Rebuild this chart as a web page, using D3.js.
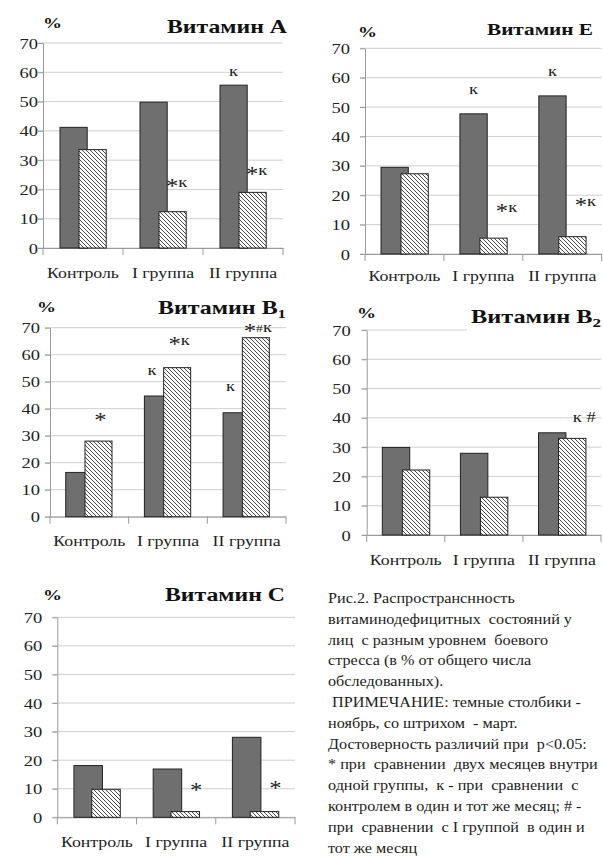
<!DOCTYPE html>
<html>
<head>
<meta charset="utf-8">
<script src="https://cdn.jsdelivr.net/npm/d3@7"></script>
<style>
  body { margin: 0; background: #fff; }
  svg { display: block; }
</style>
</head>
<body>
<script>
// categories and tick values
var categories = ["Контроль", "I группа", "II группа"];
var yTicks = [0, 10, 20, 30, 40, 50, 60, 70];

// dark bars - ноябрь, hatched bars - март (% of examined)
var vitA_nov = [41.2, 49.8, 55.6],  vitA_mar = [33.6, 12.4, 19.0];
var vitE_nov = [29.5, 47.7, 53.8],  vitE_mar = [27.3, 5.4, 5.9];
var vitB1_nov = [16.4, 44.7, 38.5], vitB1_mar = [28.0, 55.2, 66.3];
var vitB2_nov = [29.9, 27.9, 34.9], vitB2_mar = [22.2, 12.9, 33.0];
var vitC_nov = [18.1, 16.9, 28.0],  vitC_mar = [9.8, 2.0, 2.0];

// significance marks: [category index, series (0 nov, 1 mar), level, text]
var vitA_marks = [[2, 0, 60, "к"], [1, 1, 22.2, "*к"], [2, 1, 26.3, "*к"]];
var vitE_marks = [[1, 0, 55.8, "к"], [2, 0, 61.9, "к"], [1, 1, 15.6, "*к"], [2, 1, 17.8, "*к"]];
var vitB1_marks = [[0, 1, 37, "*"], [1, 0, 54, "к"], [1, 1, 65, "*к"], [2, 0, 48, "к"], [2, 1, 70, "*#к"]];
var vitB2_marks = [[2, 1, 39.8, "к #"]];
var vitC_marks = [[1, 1, 10.7, "*"], [2, 1, 11.3, "*"]];

var captionLines = [
  "Рис.2. Распространснность",
  "витаминодефицитных  состояний у",
  "лиц  с разным уровнем  боевого",
  "стресса (в % от общего числа",
  "обследованных).",
  " ПРИМЕЧАНИЕ: темные столбики -",
  "ноябрь, со штрихом  - март.",
  "Достоверность различий при  p<0.05:",
  "* при  сравнении  двух месяцев внутри",
  "одной группы,  к - при  сравнении  с",
  "контролем в один и тот же месяц; # -",
  "при  сравнении  с I группой  в один и",
  "тот же месяц"
];

var W = 603, H = 858;

var svg = d3.select("body").append("svg")
    .attr("width", W)
    .attr("height", H);

svg.append("rect").attr("width", W).attr("height", H).attr("fill", "#fff");

// pick the first serif family that is really installed
function textWidth(str, family, size, weight) {
  var t = svg.append("text").attr("font-size", size).attr("font-weight", weight || "normal")
      .attr("font-family", family).style("white-space", "pre").text(str);
  var w = t.node().getComputedTextLength();
  t.remove();
  return w;
}
var FONT = (function () {
  var probe = "Контроль Wmiil 0123";
  var base = textWidth(probe, "monospace", 20);
  var cands = ["Liberation Serif", "Tinos", "Times New Roman", "Times", "DejaVu Serif",
               "Noto Serif", "FreeSerif", "Nimbus Roman", "Nimbus Roman No9 L", "PT Serif"];
  for (var i = 0; i < cands.length; i++) {
    if (Math.abs(textWidth(probe, "'" + cands[i] + "', monospace", 20) - base) > 0.5) return "'" + cands[i] + "', serif";
  }
  return "serif";
})();
svg.attr("font-family", FONT);

// horizontal stretch so that a sample string gets the width it has in the picture
function stretchFor(str, size, weight, target) {
  var w = textWidth(str, FONT, size, weight);
  return w > 0 ? target / w : 1;
}

var sxTick = stretchFor("70", 15, "normal", 18.5);
var sxCat = stretchFor("Контроль", 15, "normal", 72);
var sxMark = stretchFor("к", 15, "normal", 9);
var sxPct = stretchFor("%", 15, "bold", 19);

// hatch pattern for the March bars
svg.append("defs").append("pattern")
    .attr("id", "hatch")
    .attr("patternUnits", "userSpaceOnUse")
    .attr("width", 4).attr("height", 4)
  .call(function (p) {
    p.append("rect").attr("width", 4).attr("height", 4).attr("fill", "#fff");
    p.append("path")
      .attr("d", "M0,0 L4,4 M-1,3 L1,5 M3,-1 L5,1")
      .attr("stroke", "#333").attr("stroke-width", 0.9);
  });

var panels = [
  {title: "Витамин А", sub: null, nov: vitA_nov, mar: vitA_mar, marks: vitA_marks,
   left: 43, right: 283, top: 43, bottom: 248, tickGap: 5, catDy: 30,
   titleX: 287, titleY: 33, titleW: 120, titleSize: 19, pctX: 43, pctY: 28,
   dark: 0.2125, hatch: 0.45, barW: 0.34, darkDx: 0, hatchDx: 4},
  {title: "Витамин Е", sub: null, nov: vitE_nov, mar: vitE_mar, marks: vitE_marks,
   left: 365, right: 601.7, top: 48.3, bottom: 254, tickGap: 15, catDy: 27,
   titleX: 593, titleY: 35, titleW: 106, titleSize: 17, pctX: 358, pctY: 37,
   dark: 0.203, hatch: 0.456, barW: 0.346, darkDx: 0, hatchDx: 13},
  {title: "Витамин B", sub: "1", nov: vitB1_nov, mar: vitB1_mar, marks: vitB1_marks,
   left: 50, right: 286, top: 327.7, bottom: 516.7, tickGap: 10, catDy: 29,
   titleX: 286, titleY: 314, titleW: 128, titleSize: 19, pctX: 37, pctY: 312,
   dark: 0.2, hatch: 0.445, barW: 0.343, darkDx: -6, hatchDx: 2},
  {title: "Витамин B", sub: "2", nov: vitB2_nov, mar: vitB2_mar, marks: vitB2_marks,
   left: 366.7, right: 601, top: 330, bottom: 535, tickGap: 16, catDy: 30,
   titleX: 601, titleY: 323, titleW: 130, titleSize: 19, pctX: 357, pctY: 318,
   dark: 0.2, hatch: 0.456, barW: 0.351, darkDx: 0, hatchDx: 12, titleBg: true},
  {title: "Витамин С", sub: null, nov: vitC_nov, mar: vitC_mar, marks: vitC_marks,
   left: 57.3, right: 295, top: 617.3, bottom: 817.3, tickGap: 15, catDy: 30,
   titleX: 285, titleY: 601, titleW: 120, titleSize: 18, pctX: 43, pctY: 600,
   dark: 0.21, hatch: 0.435, barW: 0.36, darkDx: 0, hatchDx: 11}
];

panels.forEach(drawPanel);

function drawPanel(p) {
  var g = svg.append("g");

  var x = d3.scaleBand()
      .domain(categories)
      .range([p.left, p.right]);

  var y = d3.scaleLinear()
      .domain([0, 70])
      .range([p.bottom, p.top]);

  // gridlines
  g.append("g").selectAll("line")
      .data(yTicks)
      .enter().append("line")
      .attr("x1", p.left - 5).attr("x2", p.right)
      .attr("y1", function (d) { return y(d); })
      .attr("y2", function (d) { return y(d); })
      .attr("stroke", "#cfcfcf").attr("stroke-width", 1);

  // y axis
  var ya = g.append("g")
      .attr("transform", "translate(" + p.left + ",0)")
      .call(d3.axisLeft(y).tickValues(yTicks).tickSize(5).tickSizeOuter(0))
      .attr("font-family", FONT);
  ya.select(".domain").attr("stroke", "#999");
  ya.selectAll(".tick line").attr("stroke", "#999");
  ya.selectAll(".tick text")
      .attr("x", -p.tickGap / sxTick)
      .attr("dy", "0.34em")
      .attr("transform", "scale(" + sxTick + ",1)")
      .attr("font-size", 15)
      .attr("fill", "#222");

  // x axis
  var xa = g.append("g")
      .attr("transform", "translate(0," + p.bottom + ")")
      .call(d3.axisBottom(x).tickSize(0).tickSizeOuter(0))
      .attr("font-family", FONT);
  xa.select(".domain").attr("stroke", "#999");
  xa.selectAll(".tick text")
      .attr("y", 0).attr("dy", 0)
      .attr("transform", "translate(0," + p.catDy + ") scale(" + sxCat + ",1)")
      .attr("font-size", 15)
      .attr("fill", "#222");

  // category separators on the x axis
  var bounds = [p.left].concat(categories.map(function (c) { return x(c) + x.bandwidth(); }));
  g.append("g").selectAll("line")
      .data(bounds)
      .enter().append("line")
      .attr("x1", function (d) { return d; }).attr("x2", function (d) { return d; })
      .attr("y1", p.bottom).attr("y2", p.bottom + 7)
      .attr("stroke", "#999");

  var bw = x.bandwidth() * p.barW;

  // ноябрь - dark bars
  g.append("g").selectAll("rect")
      .data(p.nov)
      .enter().append("rect")
      .attr("x", function (d, i) { return x(categories[i]) + x.bandwidth() * p.dark; })
      .attr("y", function (d) { return y(d); })
      .attr("width", bw)
      .attr("height", function (d) { return y(0) - y(d); })
      .attr("fill", "#6f6f6f")
      .attr("stroke", "#222").attr("stroke-width", 1);

  // март - hatched bars drawn over them
  g.append("g").selectAll("rect")
      .data(p.mar)
      .enter().append("rect")
      .attr("x", function (d, i) { return x(categories[i]) + x.bandwidth() * p.hatch; })
      .attr("y", function (d) { return y(d); })
      .attr("width", bw)
      .attr("height", function (d) { return y(0) - y(d); })
      .attr("fill", "url(#hatch)")
      .attr("stroke", "#222").attr("stroke-width", 1);

  // significance marks
  p.marks.forEach(function (m) {
    var off = m[1] === 0 ? p.dark : p.hatch;
    var cx = x(categories[m[0]]) + x.bandwidth() * off + bw / 2 + (m[1] === 0 ? p.darkDx : p.hatchDx);
    var t = g.append("text")
        .attr("transform", "translate(" + cx + "," + (y(m[2]) + 4) + ") scale(" + sxMark + ",1)")
        .attr("text-anchor", "middle")
        .attr("font-size", 15)
        .attr("fill", "#222");
    var shifted = 0;
    m[3].split("").forEach(function (ch) {
      var s = t.append("tspan").text(ch);
      if (ch === "*") {
        s.attr("font-size", 20).attr("dy", 6);
        shifted = 6;
      } else {
        if (shifted) { s.attr("dy", -shifted); shifted = 0; }
        if (ch === "#" && m[3][0] === "*") s.attr("font-size", 11);
      }
    });
  });

  // title
  if (p.titleBg) {
    g.append("rect")
        .attr("x", p.titleX - p.titleW - 4).attr("y", p.titleY - 18)
        .attr("width", W - (p.titleX - p.titleW - 4)).attr("height", 26)
        .attr("fill", "#fff");
  }
  var tt = g.append("text")
      .attr("x", p.titleX).attr("y", p.titleY)
      .attr("text-anchor", "end")
      .attr("font-weight", "bold")
      .attr("font-size", p.titleSize)
      .attr("fill", "#111")
      .attr("textLength", p.titleW)
      .attr("lengthAdjust", "spacingAndGlyphs")
      .text(p.title);
  if (p.sub) {
    tt.append("tspan").attr("font-size", p.titleSize * 0.7).attr("dy", 4).text(p.sub);
  }

  // % label
  g.append("text")
      .attr("transform", "translate(" + p.pctX + "," + p.pctY + ") scale(" + sxPct + ",1)")
      .attr("font-weight", "bold")
      .attr("font-size", 15)
      .attr("fill", "#111")
      .text("%");
}

// caption, stretched so the longest line spans x 328..600
var sxCap = stretchFor(captionLines[8], 14.5, "normal", 270);
svg.append("g").selectAll("text")
    .data(captionLines)
    .enter().append("text")
    .attr("transform", function (d, i) { return "translate(328," + (603 + i * 20.8) + ") scale(" + sxCap + ",1)"; })
    .attr("font-size", 14.5)
    .attr("fill", "#222")
    .style("white-space", "pre")
    .text(function (d) { return d; });
</script>
</body>
</html>
